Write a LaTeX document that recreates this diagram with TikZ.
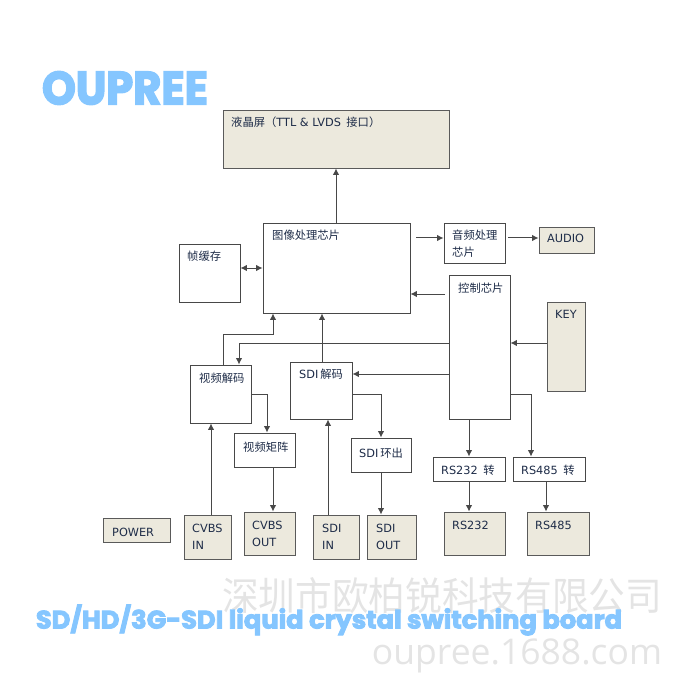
\documentclass[tikz,border=0pt]{standalone}
\usepackage{fontspec}
\usepackage{graphicx}
\usetikzlibrary{arrows.meta}
\setmainfont{DejaVu Sans}
\newfontfamily\cjk{Noto Sans CJK SC}
\newfontfamily\logofont[FakeBold=3.5]{Poppins Bold}
\newfontfamily\wmfont{Open Sans}
\definecolor{pane}{HTML}{ECE9DD}
\definecolor{edgeg}{HTML}{484848}
\definecolor{tanedge}{HTML}{5A5A5A}
\definecolor{txt}{HTML}{1E2C48}
\definecolor{sky}{HTML}{85C6FF}
\definecolor{wm}{HTML}{E4E4E4}
\tikzset{
  whitebox/.style={draw=edgeg,fill=white,line width=0.9pt,inner sep=0pt},
  tanbox/.style={draw=tanedge,fill=pane,line width=0.9pt,inner sep=0pt},
  lab/.style={anchor=base west,inner sep=0pt,text=txt,font=\fontsize{11.3}{13}\selectfont},
  wire/.style={draw=edgeg,line width=1pt},
  arr/.style={wire,-{Latex[length=6.5pt,width=6.5pt]}},
  biarr/.style={wire,{Latex[length=6.5pt,width=6.5pt]}-{Latex[length=6.5pt,width=6.5pt]}},
}
% name, style, x1, y1, x2, y2
\newcommand{\pbox}[6]{\node[#2,minimum width=#5pt-#3pt,minimum height=#6pt-#4pt] (#1) at ({(#3+#5)/2},{(#4+#6)/2}) {};}
\begin{document}
\begin{tikzpicture}[x=1pt,y=-1pt]
\useasboundingbox (0,0) rectangle (700,700);
% watermarks
\node[anchor=center,inner sep=0pt,text=wm] (wmcn) at (442,596) {\resizebox{440pt}{33pt}{\cjk 深圳市欧柏锐科技有限公司}};
\node[anchor=center,inner sep=0pt,text=wm] (wmurl) at (517,656) {\resizebox{290pt}{!}{\wmfont oupree.1688.com}};
% logo and title
\node[anchor=center,inner sep=0pt,text=sky] (logo) at (125,88) {\resizebox{166pt}{33pt}{\logofont OUPREE}};
\node[anchor=center,inner sep=0pt,text=sky] (title) at (329,620) {\resizebox{586pt}{24pt}{\logofont SD/HD/3G-SDI liquid crystal switching board}};
% boxes
\pbox{lcd}{tanbox}{223}{110}{449}{168}
\pbox{img}{whitebox}{263}{223}{410}{313}
\pbox{frm}{whitebox}{179}{244}{240}{302}
\pbox{aud}{whitebox}{444}{223}{505}{263}
\pbox{audio}{tanbox}{539}{227}{594}{253}
\pbox{ctl}{whitebox}{449}{275}{510}{419}
\pbox{key}{tanbox}{547}{302}{585}{391}
\pbox{vdec}{whitebox}{190}{365}{251}{423}
\pbox{sdec}{whitebox}{290}{362}{352}{419}
\pbox{vmx}{whitebox}{234}{433}{295}{467}
\pbox{slp}{whitebox}{351}{438}{411}{472}
\pbox{cin}{tanbox}{184}{515}{231}{559}
\pbox{cout}{tanbox}{244}{512}{295}{555}
\pbox{sin}{tanbox}{313}{515}{359}{559}
\pbox{sout}{tanbox}{367}{515}{416}{559}
\pbox{rc}{whitebox}{433}{457}{505}{481}
\pbox{rf}{whitebox}{513}{457}{585}{481}
\pbox{rs}{tanbox}{444}{512}{505}{555}
\pbox{rg}{tanbox}{527}{512}{589}{555}
\pbox{pow}{tanbox}{103}{518}{170}{542}
% labels
\node[lab] (t1) at (231,127) {{\cjk 液晶屏（}TTL \& LVDS\, {\cjk 接口）}};
\node[lab] (t2) at (272,240) {\cjk 图像处理芯片};
\node[lab] (t3) at (187,260) {\cjk 帧缓存};
\node[lab] (t4) at (452,240) {\cjk 音频处理};
\node[lab] (t5) at (452,257) {\cjk 芯片};
\node[lab] (t6) at (547,243) {AUDIO};
\node[lab] (t7) at (458,292) {\cjk 控制芯片};
\node[lab] (t8) at (555,318) {KEY};
\node[lab] (t9) at (199,382) {\cjk 视频解码};
\node[lab] (t10) at (299,378) {SDI\,{\cjk 解码}};
\node[lab] (t11) at (243,451) {\cjk 视频矩阵};
\node[lab] (t12) at (359,457) {SDI\,{\cjk 环出}};
\node[lab] (t13) at (192,532) {CVBS};
\node[lab] (t14) at (192,549) {IN};
\node[lab] (t15) at (252,529) {CVBS};
\node[lab] (t16) at (252,546) {OUT};
\node[lab] (t17) at (322,532) {SDI};
\node[lab] (t18) at (322,549) {IN};
\node[lab] (t19) at (376,532) {SDI};
\node[lab] (t20) at (376,549) {OUT};
\node[lab] (t21) at (441,474) {RS232\, {\cjk 转}};
\node[lab] (t22) at (521,474) {RS485\, {\cjk 转}};
\node[lab] (t23) at (452,529) {RS232};
\node[lab] (t24) at (535,529) {RS485};
\node[lab] (t25) at (112,536) {POWER};
% connectors
\draw[arr] (img.north -| 336,0) -- (lcd.south -| 336,0);
\draw[biarr] (frm.east |- 0,268) -- (img.west |- 0,268);
\coordinate (imgout) at (416,238);
\draw[arr] (imgout) -- (aud.west |- imgout);
\coordinate (audout) at (508,238);
\draw[arr] (audout) -- (audio.west |- audout);
\coordinate (ctlout) at (445,294);
\draw[arr] (ctlout) -- (img.east |- ctlout);
\draw[arr] (key.west |- 0,343) -- (ctl.east |- 0,343);
\draw[arr] (vdec.north -| 223,0) -- (223,334) -- (273,334) -- (img.south -| 273,0);
\draw[arr] (sdec.north -| 322,0) -- (img.south -| 322,0);
\draw[arr] (ctl.west |- 0,343) -- (239,343) -- (vdec.north -| 239,0);
\draw[arr] (ctl.west |- 0,374) -- (sdec.east |- 0,374);
\draw[arr] (vdec.east |- 0,394) -- (267,394) -- (vmx.north -| 267,0);
\draw[arr] (sdec.east |- 0,394) -- (381,394) -- (slp.north -| 381,0);
\draw[arr] (cin.north -| 211,0) -- (vdec.south -| 211,0);
\draw[arr] (vmx.south -| 273,0) -- (cout.north -| 273,0);
\draw[arr] (sin.north -| 328,0) -- (sdec.south -| 328,0);
\draw[arr] (slp.south -| 381,0) -- (sout.north -| 381,0);
\draw[arr] (ctl.south -| 469,0) -- (rc.north -| 469,0);
\draw[arr] (ctl.east |- 0,394) -- (531,394) -- (rf.north -| 531,0);
\draw[arr] (rc.south -| 469,0) -- (rs.north -| 469,0);
\draw[arr] (rf.south -| 546,0) -- (rg.north -| 546,0);
\end{tikzpicture}
\end{document}
